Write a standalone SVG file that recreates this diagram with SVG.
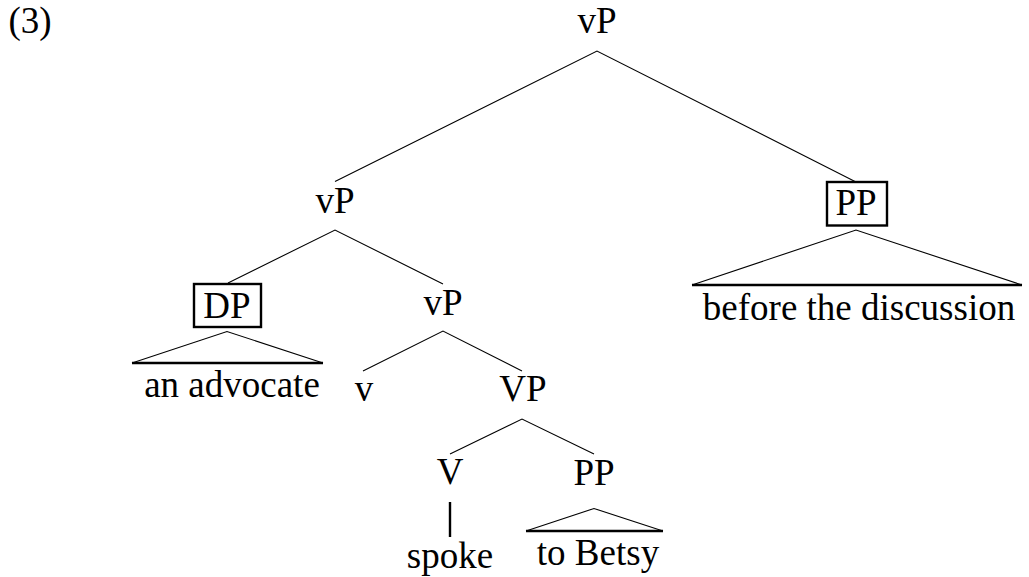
<svg xmlns="http://www.w3.org/2000/svg" width="1029" height="577" viewBox="0 0 1029 577" font-family="'Liberation Serif', 'Times New Roman', Times, 'DejaVu Serif', serif">
<style>
text{font-family:'Liberation Serif','Times New Roman',Times,'DejaVu Serif',serif;font-size:37px;fill:#000;text-anchor:middle}
.e{stroke:#000;stroke-width:1.1;fill:none}
.b{stroke:#000;stroke-width:2.4;fill:none}
.box{stroke:#000;stroke-width:2.4;fill:none}
</style>
<rect width="1029" height="577" fill="#fff"/>
<text x="30" y="33">(3)</text>
<g id="connectors">
<path class="e" d="M335 181.5 L597 51 L855 181.5"/>
<path class="e" d="M228 283 L335 230 L443 284"/>
<path class="e" d="M363 371 L443 331 L522 371"/>
<path class="e" d="M450 454 L522 419 L594 454"/>
<line class="b" x1="450" y1="502" x2="450" y2="537"/>
</g>
<g id="n-vP-top"><text x="597" y="33">vP</text></g>
<g id="n-vP-mid"><text x="335" y="213">vP</text></g>
<g id="n-PP-high">
<rect class="box" x="827" y="182" width="60" height="43.5"/>
<text x="856" y="215">PP</text>
</g>
<g id="n-PP-high-tri">
<path class="e" d="M692 285 L856 230 L1022 285"/>
<line class="b" x1="692" y1="285" x2="1022" y2="285"/>
<text x="859" y="320">before the discussion</text>
</g>
<g id="n-DP">
<rect class="box" x="194" y="284" width="67" height="43"/>
<text x="227" y="318">DP</text>
</g>
<g id="n-DP-tri">
<path class="e" d="M132 363 L227 331.5 L323 363"/>
<line class="b" x1="132" y1="363" x2="323" y2="363"/>
<text x="232" y="397">an advocate</text>
</g>
<g id="n-vP-low"><text x="443" y="315">vP</text></g>
<g id="n-v"><text x="364" y="401">v</text></g>
<g id="n-VP"><text x="523" y="401">VP</text></g>
<g id="n-V"><text x="450" y="484">V</text></g>
<g id="n-spoke"><text x="450" y="568">spoke</text></g>
<g id="n-PP-low"><text x="594" y="485">PP</text></g>
<g id="n-PP-low-tri">
<path class="e" d="M526 531 L594 508.5 L663 531"/>
<line class="b" x1="526" y1="531" x2="663" y2="531"/>
<text x="598" y="565">to Betsy</text>
</g>
</svg>
